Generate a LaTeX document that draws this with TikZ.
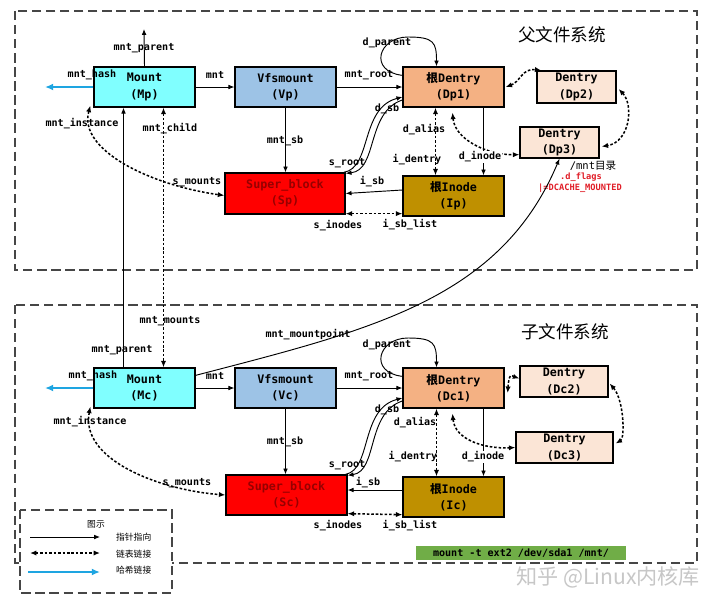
\documentclass[tikz,border=0pt]{standalone}
\usepackage{fontspec}
\usepackage{xcolor}
\usepackage{tikz}
\usetikzlibrary{arrows.meta, positioning, calc}
\newfontfamily\monofont{DejaVu Sans Mono}
\newfontfamily\cjk{Noto Sans CJK SC}
\definecolor{MountCyan}{RGB}{128, 255, 255}
\definecolor{VfsBlue}{RGB}{157, 195, 230}
\definecolor{RootOrange}{RGB}{244, 177, 131}
\definecolor{DentPeach}{RGB}{251, 229, 214}
\definecolor{SbRed}{RGB}{255, 0, 0}
\definecolor{SbText}{RGB}{150, 0, 0}
\definecolor{InodeGold}{RGB}{191, 144, 0}
\definecolor{HashBlue}{RGB}{30, 165, 225}
\definecolor{CmdGreen}{RGB}{112, 173, 71}
\definecolor{FrameGray}{RGB}{70, 70, 70}
\definecolor{FlagRed}{RGB}{225, 30, 40}
\newcommand{\boxfont}{\monofont\bfseries\fontsize{10}{14}\selectfont}
\newcommand{\lblfont}{\monofont\bfseries\fontsize{8.6}{9}\selectfont}
\newcommand{\flagfont}{\monofont\bfseries\fontsize{7.4}{8}\selectfont}
\newcommand{\legfont}{\cjk\fontsize{7.5}{8}\selectfont}
\newcommand{\titlefont}{\cjk\fontsize{15}{15}\selectfont}
\tikzset{
  box/.style={draw, line width=1.1pt, inner sep=0pt, align=center, font=\boxfont},
  widebox/.style={box, minimum width=3.03cm, minimum height=1.2cm},
  ptr/.style={-{Latex[length=5pt,width=4pt]}, line width=0.8pt},
  lnk/.style={{Latex[length=5.5pt,width=4.5pt]}-{Latex[length=5.5pt,width=4.5pt]}, line width=1.3pt, dash pattern=on 2.2pt off 1.6pt},
  hsh/.style={-{Latex[length=7pt,width=6pt]}, draw=HashBlue, line width=1.6pt},
  lbl/.style={font=\lblfont, inner sep=1pt},
  frame/.style={draw=FrameGray, line width=1pt, dash pattern=on 8pt off 4pt}
}

\begin{document}
\begin{tikzpicture}[x=0.03cm, y=-0.03cm]
  \fill[white] (0,0) rectangle (720,603);
  \useasboundingbox (0,0) rectangle (720,603);

  % two file systems
  \draw[frame] (15,11) rectangle (697,270);
  \draw[frame] (15,305) rectangle (697,563);
  \node[font=\titlefont] (ttlp) at (562,35) {父文件系统};
  \node[font=\titlefont] (ttlc) at (565,332) {子文件系统};

  % parent fs
  \node[widebox, fill=MountCyan] (Mp) at (144.5,87) {Mount\\(Mp)};
  \node[widebox, fill=VfsBlue] (Vp) at (285.5,87) {Vfsmount\\(Vp)};
  \node[widebox, fill=RootOrange] (Dp1) at (453.5,87) {{\cjk 根}Dentry\\(Dp1)};
  \node[box, fill=DentPeach, minimum width=2.37cm, minimum height=0.96cm] (Dp2) at (576.5,87) {Dentry\\(Dp2)};
  \node[box, fill=DentPeach, minimum width=2.37cm, minimum height=0.93cm] (Dp3) at (559.5,142.5) {Dentry\\(Dp3)};
  \node[box, fill=SbRed, text=SbText, minimum width=3.6cm, minimum height=1.23cm] (Sp) at (285,193.5) {Super\_block\\(Sp)};
  \node[widebox, fill=InodeGold] (Ip) at (453.5,196) {{\cjk 根}Inode\\(Ip)};

  % child fs
  \node[widebox, fill=MountCyan] (Mc) at (144.5,388) {Mount\\(Mc)};
  \node[widebox, fill=VfsBlue] (Vc) at (285.5,388) {Vfsmount\\(Vc)};
  \node[widebox, fill=RootOrange] (Dc1) at (453.5,388) {{\cjk 根}Dentry\\(Dc1)};
  \node[box, fill=DentPeach, minimum width=2.64cm, minimum height=0.93cm] (Dc2) at (564,381.5) {Dentry\\(Dc2)};
  \node[box, fill=DentPeach, minimum width=2.91cm, minimum height=0.93cm] (Dc3) at (564.5,447.5) {Dentry\\(Dc3)};
  \node[box, fill=SbRed, text=SbText, minimum width=3.63cm, minimum height=1.2cm] (Sc) at (286.5,495) {Super\_block\\(Sc)};
  \node[widebox, fill=InodeGold] (Ic) at (453.5,497) {{\cjk 根}Inode\\(Ic)};

  \node[font=\monofont\fontsize{9}{9}\selectfont] (mntdir) at (593,166) {/mnt{\cjk 目录}};
  \node[text=FlagRed, font=\flagfont] (dflags) at (581,177) {.d\_flags};
  \node[text=FlagRed, font=\flagfont] (dcflag) at (580,188) {|=DCACHE\_MOUNTED};

  % parent links
  \coordinate (mpup) at (144,29);
  \coordinate (mphash) at (45,87);
  \coordinate (dploop) at (408,37);
  \draw[ptr] (Mp.north) -- (mpup);
  \draw[hsh] (Mp.west) -- (mphash);
  \draw[ptr] (Mp) -- (Vp);
  \draw[ptr] (Vp) -- (Dp1);
  \draw[ptr] ($(Dp1.north west)+(0,9)$) .. controls +(-34,-4) and +(-30,0) .. (dploop)
    .. controls +(26,0) and +(0,-24) .. ($(Dp1.north)+(-17,0)$);
  \draw[ptr] ($(Sp.north east)+(-2,0)$) .. controls (372,168) and (360,108) .. ($(Dp1.west)+(0,10)$);
  \draw[ptr] ($(Dp1.west)+(0,13)$) .. controls (366,112) and (378,170) .. ($(Sp.north east)+(0,1)$);
  \draw[ptr] (Vp.south) -- (Vp.south |- Sp.north);
  \draw[ptr] ($(Ip.west)+(0,-6)$) -- (Sp.east);
  \draw[lnk] ($(Sp.south east)+(0,-1)$) -- ($(Ip.south west)+(0,-3)$);
  \draw[lnk] ($(Dp1.south)+(-18,0)$) -- ($(Ip.north)+(-18,0)$);
  \draw[ptr] ($(Dp1.south)+(30,0)$) -- ($(Ip.north)+(30,0)$);
  \draw[lnk] ($(Dp1.south)+(-1,5)$) .. controls (455,140) and (488,155) .. ($(Dp3.south west)+(0,-4)$);
  \draw[lnk] ($(Dp1.east)+(1,0)$) .. controls (520,82) and (522,68) .. ($(Dp2.north west)+(5,0)$);
  \draw[lnk] ($(Dp2.east)+(2,2)$) .. controls (634,105) and (630,142) .. ($(Dp3.east)+(2,4)$);
  \draw[lnk] ($(Mp.south west)+(-3,-2)$) .. controls (78,150) and (150,185) .. ($(Sp.west)+(0,2)$);

  % between the two
  \draw[lnk] ($(Mp.south)+(19,0)$) -- ($(Mc.north)+(19,0)$);
  \draw[ptr] ($(Mc.north)+(-21,0)$) -- ($(Mp.south)+(-21,0)$);
  \draw[ptr] ($(Mc.north east)+(0,8)$) .. controls (370,330) and (500,300) .. (Dp3.south);

  % child links
  \coordinate (mchash) at (45,388);
  \coordinate (dcloop) at (408,338);
  \draw[hsh] (Mc.west) -- (mchash);
  \draw[ptr] (Mc) -- (Vc);
  \draw[ptr] (Vc) -- (Dc1);
  \draw[ptr] ($(Dc1.north west)+(0,9)$) .. controls +(-34,-4) and +(-30,0) .. (dcloop)
    .. controls +(26,0) and +(0,-24) .. ($(Dc1.north)+(-17,0)$);
  \draw[ptr] ($(Sc.north east)+(-2,0)$) .. controls (372,469) and (360,409) .. ($(Dc1.west)+(0,10)$);
  \draw[ptr] ($(Dc1.west)+(0,13)$) .. controls (366,413) and (378,471) .. ($(Sc.north east)+(0,1)$);
  \draw[ptr] (Vc.south) -- (Vc.south |- Sc.north);
  \draw[ptr] ($(Ic.west)+(0,-7)$) -- ($(Sc.east)+(0,-5)$);
  \draw[lnk] ($(Sc.south east)+(0,-2)$) -- ($(Ic.south west)+(0,-3)$);
  \draw[lnk] ($(Dc1.south)+(-17,0)$) -- ($(Ic.north)+(-17,0)$);
  \draw[ptr] ($(Dc1.south)+(30,0)$) -- ($(Ic.north)+(30,0)$);
  \draw[lnk] ($(Dc1.south)+(-1,5)$) .. controls (455,440) and (485,449) .. (Dc3.west);
  \draw[lnk] ($(Dc1.east)+(3,5)$) .. controls (509,372) and (512,376) .. ($(Dc2.west)+(0,-3)$);
  \draw[lnk] ($(Dc2.east)+(1,2)$) .. controls (624,400) and (625,438) .. ($(Dc3.east)+(2,-4)$);
  \draw[lnk] ($(Mc.south west)+(-3,-2)$) .. controls (80,460) and (160,490) .. (Sc.west);

  % labels, parent
  \node[lbl] (lmpp) at (144,48) {mnt\_parent};
  \node[lbl] (lmph) at (92,75) {mnt\_hash};
  \node[lbl] (lmpm) at (215,75) {mnt};
  \node[lbl] (lvpr) at (369,75) {mnt\_root};
  \node[lbl] (ldpp) at (387,43) {d\_parent};
  \node[lbl] (ldps) at (387,109) {d\_sb};
  \node[lbl] (lspr) at (347,163) {s\_root};
  \node[lbl] (lvps) at (285,141) {mnt\_sb};
  \node[lbl] (ldpa) at (424,130) {d\_alias};
  \node[lbl] (lipd) at (417,160) {i\_dentry};
  \node[lbl, fill=white] (ldpi) at (480,157) {d\_inode};
  \node[lbl] (lips) at (372,182) {i\_sb};
  \node[lbl] (lspi) at (338,226) {s\_inodes};
  \node[lbl] (lipl) at (410,225) {i\_sb\_list};
  \node[lbl] (lmpi) at (82,124) {mnt\_instance};
  \node[lbl] (lmpc) at (170,129) {mnt\_child};
  \node[lbl] (lspm) at (197,182) {s\_mounts};

  % labels, child
  \node[lbl] (lmcm) at (170,321) {mnt\_mounts};
  \node[lbl] (lmcp) at (122,350) {mnt\_parent};
  \node[lbl] (lmcmp) at (308,335) {mnt\_mountpoint};
  \node[lbl] (lmch) at (93,376) {mnt\_hash};
  \node[lbl] (lmcn) at (215,376) {mnt};
  \node[lbl] (lvcr) at (369,376) {mnt\_root};
  \node[lbl] (ldcp) at (387,345) {d\_parent};
  \node[lbl] (ldcs) at (387,410) {d\_sb};
  \node[lbl] (lscr) at (347,465) {s\_root};
  \node[lbl] (lvcs) at (285,442) {mnt\_sb};
  \node[lbl] (ldca) at (415,423) {d\_alias};
  \node[lbl] (licd) at (413,457) {i\_dentry};
  \node[lbl, fill=white] (ldci) at (483,457) {d\_inode};
  \node[lbl] (lics) at (368,483) {i\_sb};
  \node[lbl] (lsci) at (338,526) {s\_inodes};
  \node[lbl] (licl) at (410,526) {i\_sb\_list};
  \node[lbl] (lmci) at (90,422) {mnt\_instance};
  \node[lbl] (lscm) at (187,483) {s\_mounts};

  % legend
  \draw[frame, fill=white] (20,510) rectangle (172,593);
  \node[font=\legfont] (keyttl) at (96,524) {图示};
  \coordinate (k1a) at (30,537);
  \coordinate (k1b) at (100,537);
  \coordinate (k2a) at (30,553);
  \coordinate (k2b) at (100,553);
  \coordinate (k3a) at (28,572);
  \coordinate (k3b) at (100,572);
  \draw[ptr, line width=0.7pt] (k1a) -- (k1b);
  \draw[lnk] (k2a) -- (k2b);
  \draw[hsh] (k3a) -- (k3b);
  \node[font=\legfont, anchor=west] (k1t) at (112,537) {指针指向};
  \node[font=\legfont, anchor=west] (k2t) at (112,554) {链表链接};
  \node[font=\legfont, anchor=west] (k3t) at (112,570) {哈希链接};

  \node[fill=CmdGreen, minimum width=6.3cm, minimum height=0.44cm, inner sep=0pt,
    font=\monofont\bfseries\fontsize{8.6}{9}\selectfont] (cmd) at (521,553) {mount -t ext2 /dev/sda1 /mnt/};
  \node[text=black!22, font=\cjk\fontsize{18}{18}\selectfont] (wmark) at (608,577) {知乎 @Linux内核库};
\end{tikzpicture}
\end{document}
